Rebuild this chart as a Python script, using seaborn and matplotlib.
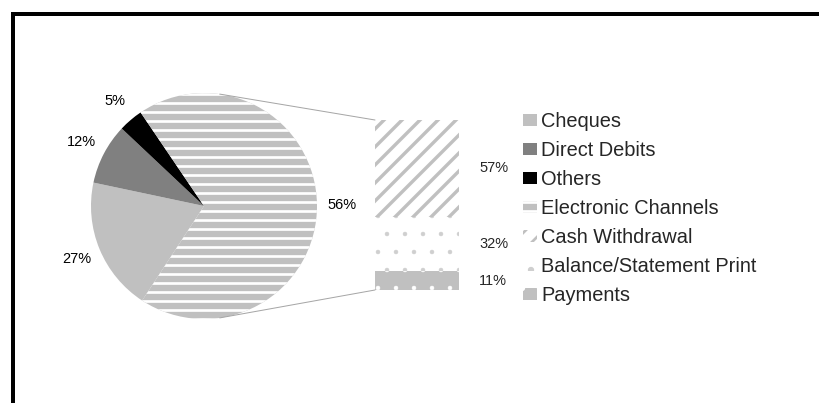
import numpy as np
import matplotlib
matplotlib.use("Agg")
import matplotlib.pyplot as plt
import seaborn as sns
from matplotlib.patches import Patch, ConnectionPatch
from matplotlib.lines import Line2D

# main pie
pie_names = ["Cheques", "Direct Debits", "Others", "Electronic Channels"]
pie_labels = [27, 12, 5, 56]            # percentages printed on the chart
pie_share = [19.1, 8.7, 3.5, 68.7]      # slice sizes as they are drawn in the picture

# bar that splits the Electronic Channels slice
bar_names = ["Cash Withdrawal", "Balance/Statement Print", "Payments"]
bar_values = [57, 32, 11]

GRAY = "#C0C0C0"
pie_colors = [GRAY, "#808080", "#000000", GRAY]
# face, hatch, hatch colour, hatch width (px)
bar_styles = [("white", "//", GRAY, 3.4),
              ("white", ".", "#CFCFCF", 0.8),
              (GRAY, ".", "white", 0.8)]

W, H, DPI = 819, 403, 108


def px(v):
    # pixels -> points
    return v * 72 / DPI


def hatch_lw(p, w):
    if hasattr(p, "set_hatch_linewidth"):
        p.set_hatch_linewidth(px(w))


sns.set_style("white")
plt.rcParams["font.family"] = ["Liberation Sans", "DejaVu Sans"]
plt.rcParams["hatch.linewidth"] = px(2.7)

fig = plt.figure(figsize=(W / DPI, H / DPI), dpi=DPI)

# pie
cx, cy, r, span = 204, 206, 113, 1.3
ax_pie = fig.add_axes([(cx - span * r) / W, (H - cy - span * r) / H,
                       2 * span * r / W, 2 * span * r / H])
lab_iter = iter(pie_labels)
wedges, _, pct_txt = ax_pie.pie(
    pie_share, colors=pie_colors, startangle=236.8, counterclock=False,
    autopct=lambda p: f"{next(lab_iter)}%", pctdistance=1.22,
    wedgeprops=dict(linewidth=0),
    textprops=dict(fontsize=px(14.5), color="black"))
wedges[3].set_hatch("--")
wedges[3].set_edgecolor("white")
hatch_lw(wedges[3], 2.7)
ax_pie.set_xlim(-span, span)
ax_pie.set_ylim(-span, span)

# stacked bar (drawn as cumulative totals, largest first)
bx0, bx1, by0, by1 = 375, 459, 120, 290
ax_bar = fig.add_axes([bx0 / W, (H - by1) / H, (bx1 - bx0) / W, (by1 - by0) / H])
tops = np.cumsum(bar_values[::-1])[::-1]
for val, top, (face, hatch, hc, hw) in zip(bar_values, tops, bar_styles):
    sns.barplot(x=[0], y=[top], ax=ax_bar, color=face, saturation=1,
                width=1, errorbar=None, linewidth=0)
    p = ax_bar.patches[-1]
    p.set_facecolor(face)
    p.set_hatch(hatch)
    p.set_edgecolor(hc)
    p.set_linewidth(0)
    hatch_lw(p, hw)
    ax_bar.annotate(f"{val}%", xy=(0.5, top - val / 2), xytext=(px(20), 0),
                    textcoords="offset points", ha="left", va="center",
                    fontsize=px(14.5))
ax_bar.set_xlim(-0.5, 0.5)
ax_bar.set_ylim(0, 100)
ax_bar.axis("off")

# connector lines pie -> bar
th = np.deg2rad(82)
for sgn, yb in [(1, 100), (-1, 0)]:
    con = ConnectionPatch(xyA=(np.cos(th), sgn * np.sin(th)), coordsA=ax_pie.transData,
                          xyB=(-0.5, yb), coordsB=ax_bar.transData,
                          color="#A6A6A6", lw=px(1))
    fig.add_artist(con)

# legend
handles = [Patch(facecolor=c, linewidth=0) for c in pie_colors[:3]]
handles.append(Patch(facecolor=GRAY, edgecolor="white", hatch="--", linewidth=0))
for face, hatch, hc, hw in bar_styles:
    handles.append(Patch(facecolor=face, edgecolor=hc, hatch=hatch, linewidth=0))
leg = fig.legend(handles, pie_names + bar_names, loc="upper left",
                 bbox_to_anchor=(523 / W, 1 - 112 / H), frameon=False,
                 fontsize=px(20), handlelength=0.7, handleheight=0.6,
                 handletextpad=0.2, labelspacing=0.5, borderpad=0, borderaxespad=0)

# screenshot frame (left and top edge only)
fig.add_artist(Line2D([11 / W, 1], [1 - 11.5 / H] * 2, transform=fig.transFigure,
                      color="#C8C8C8", lw=px(1)))
fig.add_artist(Line2D([13 / W] * 2, [0, 1 - 12 / H], transform=fig.transFigure,
                      color="black", lw=px(4), solid_capstyle="butt"))
fig.add_artist(Line2D([11 / W, 1], [1 - 14 / H] * 2, transform=fig.transFigure,
                      color="black", lw=px(4), solid_capstyle="butt"))

fig.savefig("out.png", dpi=DPI)
